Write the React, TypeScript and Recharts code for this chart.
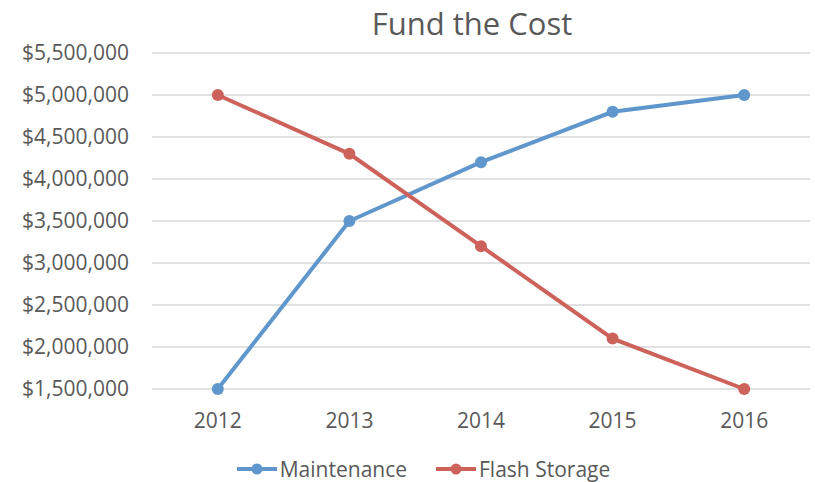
import React from 'react';
import { LineChart, Line, XAxis, YAxis, CartesianGrid, Legend } from 'recharts';

const years = ['2012', '2013', '2014', '2015', '2016'];
const maintenance = [1500000, 3500000, 4200000, 4800000, 5000000];
const flashStorage = [5000000, 4300000, 3200000, 2100000, 1500000];
const yTicks = [1500000, 2000000, 2500000, 3000000, 3500000, 4000000, 4500000, 5000000, 5500000];

const BLUE = '#5F97CD';
const RED = '#CD625B';
const TEXT = '#595959';
const FONT = '"Open Sans", "Noto Sans", sans-serif';

const data = years.map((y, i) => ({ year: y, maintenance: maintenance[i], flash: flashStorage[i] }));

const fmt = (v: number) => '$' + v.toLocaleString('en-US');

const series = [
  { key: 'maintenance', name: 'Maintenance', color: BLUE },
  { key: 'flash', name: 'Flash Storage', color: RED },
];

const LegendContent = () => (
  <div style={{ display: 'flex', justifyContent: 'center', alignItems: 'center', height: 26, fontFamily: FONT, fontSize: 21, color: TEXT, paddingLeft: 36 }}>
    {series.map((s, i) => (
      <div key={s.key} style={{ display: 'flex', alignItems: 'center', marginLeft: i === 0 ? 0 : 28 }}>
        <svg width={42} height={14} style={{ marginRight: 2 }}>
          <line x1={1} y1={7} x2={41} y2={7} stroke={s.color} strokeWidth={4} />
          <circle cx={21} cy={7} r={5.5} fill={s.color} />
        </svg>
        <span>{s.name}</span>
      </div>
    ))}
  </div>
);

export default function App() {
  return (
    <div style={{ position: 'absolute', left: 0, top: 0, width: 815, height: 482, background: '#fff' }}>
      <LineChart width={815} height={482} data={data} margin={{ top: 53, right: 5, left: 0, bottom: 0 }}>
        <CartesianGrid vertical={false} stroke="#D9D9D9" strokeWidth={1.3} />
        <XAxis
          dataKey="year"
          axisLine={false}
          tickLine={false}
          tickSize={0}
          tickMargin={24}
          height={67}
          padding={{ left: 65.8, right: 65.8 }}
          tick={{ fill: TEXT, fontSize: 21, fontFamily: FONT }}
        />
        <YAxis
          width={152}
          domain={[1500000, 5500000]}
          ticks={yTicks}
          tickFormatter={fmt}
          axisLine={false}
          tickLine={false}
          tickSize={0}
          tickMargin={23}
          interval={0}
          tick={{ fill: TEXT, fontSize: 21, fontFamily: FONT }}
        />
        <Legend verticalAlign="bottom" height={26} content={<LegendContent />} />
        {series.map((s) => (
          <Line
            key={s.key}
            type="linear"
            dataKey={s.key}
            name={s.name}
            stroke={s.color}
            strokeWidth={4}
            dot={{ r: 6, fill: s.color, stroke: s.color, strokeWidth: 0 }}
            activeDot={false}
            isAnimationActive={false}
          />
        ))}
      </LineChart>
      <svg width={815} height={50} style={{ position: 'absolute', left: 0, top: 0, pointerEvents: 'none' }}>
        <text x={472} y={35} textAnchor="middle" fontFamily={FONT} fontSize={31} fill={TEXT}>
          Fund the Cost
        </text>
      </svg>
    </div>
  );
}
